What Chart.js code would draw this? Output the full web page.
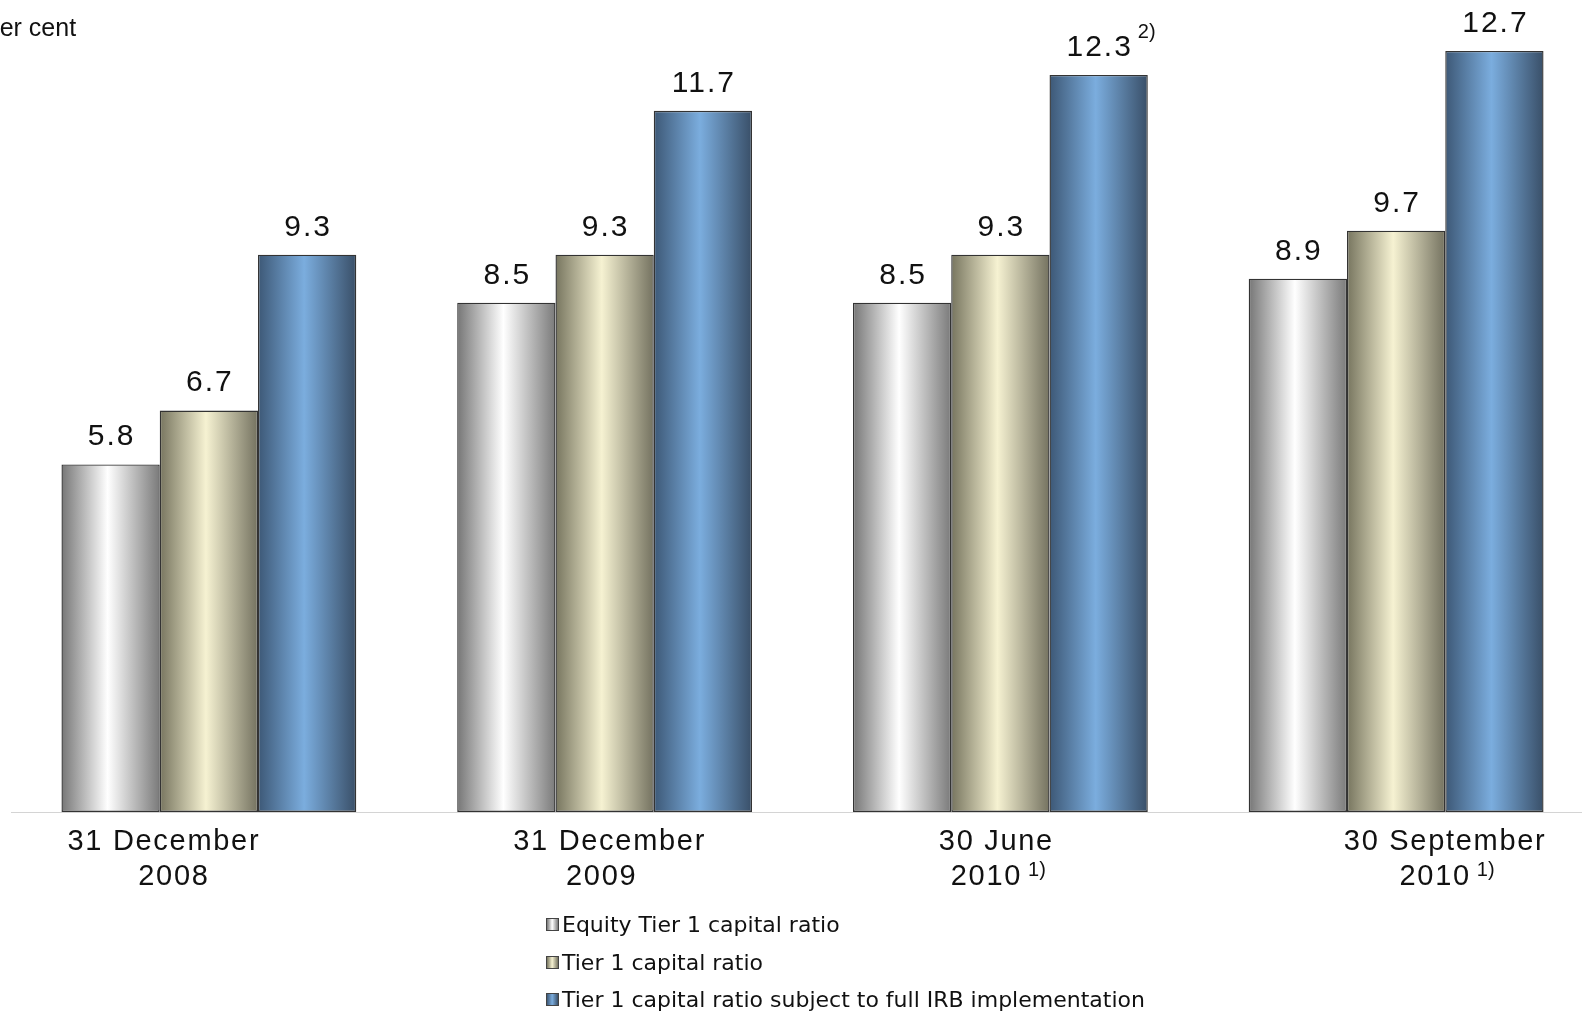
<!DOCTYPE html>
<html lang="en">
<head>
    <meta charset="UTF-8">
    <title>Tier 1 capital ratios</title>
    <script src="https://cdn.jsdelivr.net/npm/chart.js"></script>
    <style>
        html, body { margin: 0; padding: 0; background: #fff; overflow: hidden; }
        .wrap { position: relative; width: 1582px; height: 1015px; overflow: hidden; }
        #chart { position: absolute; left: 0; top: 0; }
        .unit {
            position: absolute; left: -17px; top: 13px;
            font: 25px "Liberation Sans", Arial, sans-serif; color: #111;
        }
        .legend {
            position: absolute; left: 546px; top: 906px;
            font: 22px "DejaVu Sans", sans-serif; color: #111;
        }
        .legend div { height: 37.5px; line-height: 37.5px; display: flex; align-items: center; }
        .legend span.box {
            display: inline-block; width: 11px; height: 11px; margin-right: 3px;
            border: 1.5px solid #444;
        }
    </style>
</head>
<body>
    <div class="wrap">
        <canvas id="chart" width="1600" height="1015" style="width:1600px;height:1015px"></canvas>
        <div class="unit">Per cent</div>
        <div class="legend" id="legend"></div>
    </div>

    <script>
        // Datos
        const periodos = [['31 December', '2008'], ['31 December', '2009'], ['30 June', '2010'], ['30 September', '2010']];
        const notasPeriodo = ['', '', '1)', '1)'];
        const series = ['Equity Tier 1 capital ratio', 'Tier 1 capital ratio', 'Tier 1 capital ratio subject to full IRB implementation'];
        const equityTier1 = [5.8, 8.5, 8.5, 8.9];
        const tier1 = [6.7, 9.3, 9.3, 9.7];
        const tier1IRB = [9.3, 11.7, 12.3, 12.7];
        const notasIRB = ['', '', '2)', ''];

        // colores del degradado (borde, centro, borde)
        const gradientes = [
            ['#767676', '#ffffff', '#7a7a7a'],
            ['#77755f', '#f6f2d2', '#747260'],
            ['#3d5876', '#7badde', '#394f68']
        ];
        // desplazamiento de las etiquetas de fecha respecto al centro del grupo
        const desplazEtiqueta = [-45, 5, -4, 49];

        const CAT_PCT = 0.745;

        // color base (la función evita que las opciones se compartan entre barras)
        function colorBase(ctx) {
            return gradientes[ctx.datasetIndex][1];
        }

        const degradados = {
            id: 'degradados',
            beforeDatasetsDraw(chart) {
                const ctx = chart.ctx;
                chart.data.datasets.forEach((ds, di) => {
                    const g = gradientes[di];
                    chart.getDatasetMeta(di).data.forEach(bar => {
                        const left = bar.x - bar.width / 2;
                        if (!isFinite(left) || !isFinite(bar.width)) return;
                        const grad = ctx.createLinearGradient(left, 0, left + bar.width, 0);
                        grad.addColorStop(0, g[0]);
                        grad.addColorStop(0.47, g[1]);
                        grad.addColorStop(1, g[2]);
                        bar.options.backgroundColor = grad;
                    });
                });
            }
        };

        const etiquetas = {
            id: 'etiquetas',
            afterDatasetsDraw(chart) {
                const ctx = chart.ctx;
                ctx.save();
                ctx.fillStyle = '#111';
                ctx.textAlign = 'center';
                ctx.textBaseline = 'alphabetic';
                chart.data.datasets.forEach((ds, di) => {
                    const meta = chart.getDatasetMeta(di);
                    meta.data.forEach((bar, i) => {
                        ctx.font = '30px "Liberation Sans", Arial, sans-serif';
                        ctx.letterSpacing = '2px';
                        const txt = ds.data[i].toFixed(1);
                        ctx.fillText(txt, bar.x + 1, bar.y - 19);
                        if (di === 2 && notasIRB[i]) {
                            const w = ctx.measureText(txt).width;
                            ctx.font = '20px "Liberation Sans", Arial, sans-serif';
                            ctx.letterSpacing = '0px';
                            ctx.textAlign = 'left';
                            ctx.fillText(notasIRB[i], bar.x + w / 2 + 6, bar.y - 37);
                            ctx.textAlign = 'center';
                        }
                    });
                });

                // etiquetas del eje x
                const xs = chart.scales.x;
                periodos.forEach((lineas, i) => {
                    const cx = xs.getPixelForValue(i) + desplazEtiqueta[i];
                    ctx.font = '29px "Liberation Sans", Arial, sans-serif';
                    ctx.letterSpacing = '1.7px';
                    ctx.textAlign = 'center';
                    ctx.fillText(lineas[0], cx, 850);
                    const w2 = ctx.measureText(lineas[1]).width;
                    let x2 = cx + (i === 0 ? 10 : (i === 1 ? -8 : -10));
                    ctx.fillText(lineas[1], x2, 885);
                    if (notasPeriodo[i]) {
                        ctx.font = '20px "Liberation Sans", Arial, sans-serif';
                        ctx.letterSpacing = '0px';
                        ctx.textAlign = 'left';
                        ctx.fillText(notasPeriodo[i], x2 + w2 / 2 + 6, 876);
                    }
                });
                ctx.restore();
            }
        };

        new Chart(document.getElementById('chart'), {
            type: 'bar',
            data: {
                labels: periodos,
                datasets: [
                    { label: series[0], data: equityTier1 },
                    { label: series[1], data: tier1 },
                    { label: series[2], data: tier1IRB }
                ].map(d => Object.assign(d, {
                    backgroundColor: colorBase,
                    borderColor: '#333333',
                    borderWidth: 1.4,
                    borderSkipped: false,
                    categoryPercentage: CAT_PCT,
                    barPercentage: 1.0
                }))
            },
            options: {
                responsive: false,
                animation: false,
                layout: { padding: { left: 11, right: 6, top: 3, bottom: 195 } },
                plugins: { legend: { display: false }, tooltip: { enabled: false } },
                scales: {
                    x: {
                        grid: { display: false },
                        border: { display: true, color: '#d4d4d4', width: 1 },
                        ticks: { display: false }
                    },
                    y: {
                        display: false,
                        min: 0,
                        max: 13.5
                    }
                }
            },
            plugins: [degradados, etiquetas]
        });

        // Leyenda
        const leg = document.getElementById('legend');
        series.forEach((s, i) => {
            const g = gradientes[i];
            const row = document.createElement('div');
            const box = document.createElement('span');
            box.className = 'box';
            box.style.background = `linear-gradient(to right, ${g[0]}, ${g[1]} 47%, ${g[2]})`;
            row.appendChild(box);
            row.appendChild(document.createTextNode(s));
            leg.appendChild(row);
        });
    </script>
</body>
</html>
